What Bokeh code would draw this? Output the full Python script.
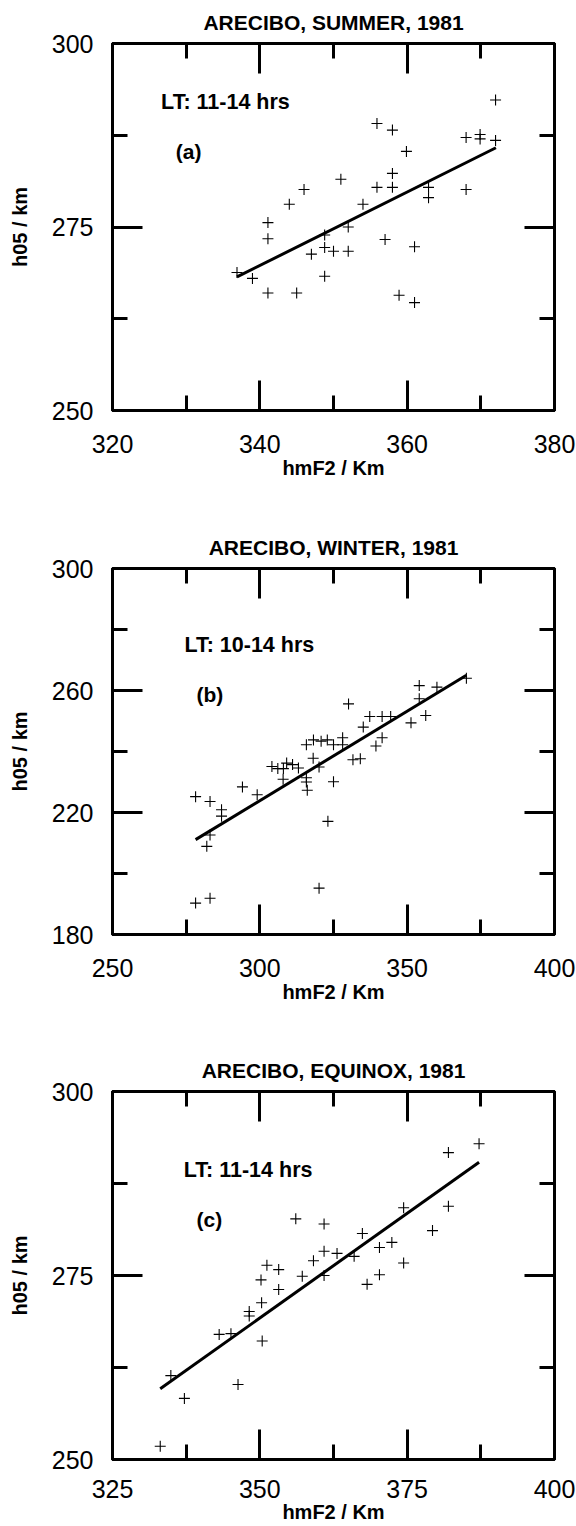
from bokeh.plotting import figure
from bokeh.models import Range1d, LinearAxis, FixedTicker, Label
from bokeh.layouts import column
from bokeh.embed import file_html
from bokeh.resources import INLINE

FONT = "Liberation Sans"

# ---------------- Panel (a): summer ----------------
summer_title = "ARECIBO, SUMMER, 1981"
summer_lt = "LT: 11-14 hrs"
summer_hmf2 = [372.0, 355.9, 358.0, 368.0, 369.9, 369.9, 372.0, 359.9, 358.0, 351.0,
               346.0, 355.9, 358.0, 362.9, 362.9, 368.0, 344.0, 354.0, 341.1, 341.1,
               352.0, 348.8, 357.0, 348.8, 350.0, 352.0, 347.0, 361.0, 336.9, 339.0,
               348.8, 341.1, 345.0, 358.9, 361.0]
summer_h05 = [292.3, 289.1, 288.2, 287.2, 287.6, 287.0, 286.8, 285.3, 282.3, 281.5,
              280.1, 280.4, 280.4, 280.4, 279.0, 280.1, 278.1, 278.1, 275.6, 273.4,
              275.0, 273.9, 273.3, 272.2, 271.7, 271.7, 271.3, 272.3, 268.8, 268.0,
              268.3, 266.0, 266.0, 265.7, 264.7]
summer_fit_x = [336.9, 372.05]
summer_fit_y = [268.2, 285.8]
summer_xticks = [320, 340, 360, 380]
summer_xminor = [330, 350, 370]
summer_yticks = [250, 275, 300]
summer_yminor = [262.5, 287.5]

# ---------------- Panel (b): winter ----------------
winter_title = "ARECIBO, WINTER, 1981"
winter_lt = "LT: 10-14 hrs"
winter_hmf2 = [370.1, 354.1, 360.1, 354.1, 330.1, 356.3, 337.3, 341.5, 344.4, 351.3,
               335.1, 341.5, 339.4, 315.8, 318.2, 320.8, 322.9, 325.0, 328.1, 328.1,
               331.6, 334.1, 318.1, 304.1, 306.1, 308.0, 309.1, 311.1, 313.1, 320.1,
               307.9, 315.8, 315.8, 316.1, 325.0, 294.1, 299.1, 278.2, 283.1, 287.0,
               287.0, 323.1, 283.1, 282.0, 320.1, 283.1, 278.2]
winter_h05 = [264.0, 261.6, 261.1, 257.3, 255.6, 251.8, 251.5, 251.5, 251.5, 249.4,
              248.0, 244.5, 241.8, 242.2, 243.8, 243.4, 243.8, 242.2, 244.5, 242.2,
              237.3, 237.6, 237.8, 235.1, 234.4, 234.4, 236.2, 235.7, 234.6, 234.9,
              230.9, 231.4, 230.0, 227.3, 230.1, 228.4, 225.8, 225.2, 223.6, 220.9,
              218.8, 217.1, 212.6, 208.9, 195.2, 191.9, 190.3]
winter_fit_x = [278.2, 370.1]
winter_fit_y = [211.1, 265.0]
winter_xticks = [250, 300, 350, 400]
winter_xminor = [275, 325, 375]
winter_yticks = [180, 220, 260, 300]
winter_yminor = [200, 240, 280]

# ---------------- Panel (c): equinox ----------------
equinox_title = "ARECIBO, EQUINOX, 1981"
equinox_lt = "LT: 11-14 hrs"
equinox_hmf2 = [387.2, 382.0, 374.4, 382.0, 356.1, 360.9, 379.3, 367.4, 372.4, 370.3,
                360.9, 363.1, 366.0, 359.1, 374.4, 351.2, 353.2, 357.2, 360.9, 370.3,
                350.2, 353.2, 368.2, 350.3, 348.2, 348.2, 343.1, 345.1, 350.4, 334.9,
                346.3, 337.2, 333.1]
equinox_h05 = [292.9, 291.7, 284.2, 284.4, 282.7, 282.0, 281.1, 280.7, 279.5, 278.8,
               278.3, 278.0, 277.6, 277.0, 276.7, 276.4, 275.8, 274.9, 275.0, 275.1,
               274.4, 273.1, 273.8, 271.3, 270.1, 269.5, 267.0, 267.1, 266.1, 261.4,
               260.2, 258.3, 251.8]
equinox_fit_x = [333.1, 387.2]
equinox_fit_y = [259.6, 290.4]
equinox_xticks = [325, 350, 375, 400]
equinox_xminor = [337.5, 362.5, 387.5]
equinox_yticks = [250, 275, 300]
equinox_yminor = [262.5, 287.5]


def make_panel(title, lt, tag, xs, ys, fx, fy, xmaj, xmin, ymaj, ymin,
               lt_pos, tag_pos, height, top, bottom, tick_std, lab_std):
    p = figure(width=576, height=height,
               x_range=Range1d(xmaj[0], xmaj[-1]), y_range=Range1d(ymaj[0], ymaj[-1]),
               output_backend="svg", toolbar_location=None,
               x_axis_location=None, y_axis_location=None,
               min_border_left=112, min_border_right=22,
               min_border_top=top, min_border_bottom=bottom)
    p.xgrid.visible = False
    p.ygrid.visible = False
    p.outline_line_color = "black"
    p.outline_line_width = 3
    p.background_fill_color = "white"
    p.border_fill_color = "white"

    p.title.text = title
    p.title.align = "center"
    p.title.vertical_align = "top"
    p.title.text_baseline = "top"
    p.title.text_font = FONT
    p.title.text_font_size = "21px"
    p.title.text_font_style = "bold"
    p.title.text_color = "black"
    p.title.standoff = 16

    for side in ["below", "left", "above", "right"]:
        horiz = side in ("below", "above")
        ticker = FixedTicker(ticks=xmaj if horiz else ymaj,
                             minor_ticks=xmin if horiz else ymin)
        ax = LinearAxis(ticker=ticker)
        ax.axis_line_width = 3
        ax.axis_line_color = "black"
        ax.major_tick_line_width = 3
        ax.minor_tick_line_width = 3
        ax.major_tick_line_color = "black"
        ax.minor_tick_line_color = "black"
        ax.major_tick_in = 30
        ax.major_tick_out = 0
        ax.minor_tick_in = 15
        ax.minor_tick_out = 0
        if side in ("below", "left"):
            ax.major_label_text_font = FONT
            ax.major_label_text_font_size = "25px"
            ax.major_label_text_color = "black"
            ax.axis_label_text_font = FONT
            ax.axis_label_text_font_size = "20px"
            ax.axis_label_text_font_style = "bold"
            ax.axis_label_text_color = "black"
            if side == "below":
                ax.axis_label = "hmF2 / Km"
                ax.major_label_standoff = tick_std
                ax.axis_label_standoff = lab_std
            else:
                ax.axis_label = "h05 / km"
                ax.major_label_standoff = 19
                ax.axis_label_standoff = 18
        else:
            ticks = xmaj if horiz else ymaj
            ax.major_label_overrides = {t: "" for t in ticks}
            ax.major_label_text_font_size = "1px"
            ax.major_label_standoff = 0
        p.add_layout(ax, side)

    p.line(fx, fy, line_color="black", line_width=3)
    p.scatter(xs, ys, marker="cross", size=11, line_color="black", line_width=1.1)

    p.add_layout(Label(x=lt_pos[0], y=lt_pos[1], text=lt, text_font=FONT,
                       text_font_size="21.5px", text_font_style="bold",
                       text_baseline="middle", text_align="left", text_color="black"))
    p.add_layout(Label(x=tag_pos[0], y=tag_pos[1], text=tag, text_font=FONT,
                       text_font_size="21px", text_font_style="bold",
                       text_baseline="middle", text_align="left", text_color="black"))
    return p


pa = make_panel(summer_title, summer_lt, "(a)", summer_hmf2, summer_h05,
                summer_fit_x, summer_fit_y, summer_xticks, summer_xminor,
                summer_yticks, summer_yminor, (326.6, 292.0), (328.6, 285.3),
                524, 43, 114, 24, 1)
pb = make_panel(winter_title, winter_lt, "(b)", winter_hmf2, winter_h05,
                winter_fit_x, winter_fit_y, winter_xticks, winter_xminor,
                winter_yticks, winter_yminor, (274.4, 274.8), (278.5, 258.6),
                524, 44, 114, 24, 1)
pc = make_panel(equinox_title, equinox_lt, "(c)", equinox_hmf2, equinox_h05,
                equinox_fit_x, equinox_fit_y, equinox_xticks, equinox_xminor,
                equinox_yticks, equinox_yminor, (337.1, 289.4), (339.25, 282.6),
                478, 43, 67, 20, 0)

layout = column(pa, pb, pc, spacing=0)
open("out.html", "w").write(file_html(layout, INLINE))
